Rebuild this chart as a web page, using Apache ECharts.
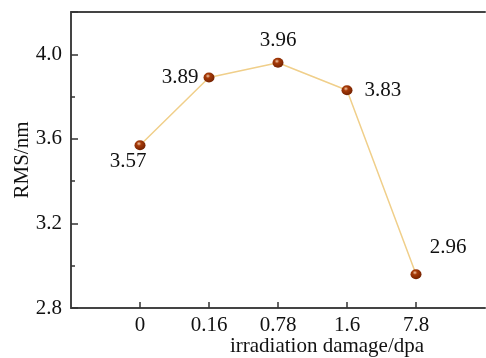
<!DOCTYPE html>
<html>
<head>
<meta charset="utf-8">
<script src="https://cdn.jsdelivr.net/npm/echarts@6/dist/echarts.min.js"></script>
<style>
  html, body { margin: 0; padding: 0; background: #fff; }
  #main { width: 486px; height: 358px; }
</style>
</head>
<body>
<div id="main"></div>
<script>
// categories (padded with blanks at both ends so the points sit like in the figure)
var damageLabels = ['', '0', '0.16', '0.78', '1.6', '7.8', ''];
var rmsValues = [null, 3.57, 3.89, 3.96, 3.83, 2.96, null];
// where each value label sits relative to its point
var labelPos = [null, [-12, 16], 'left', 'top', 'right', [32, -27]];

var serif = '"Liberation Serif", "DejaVu Serif", serif';

var chart = echarts.init(document.getElementById('main'));

var ball = {
  type: 'radial', x: 0.4, y: 0.35, r: 0.7,
  colorStops: [
    { offset: 0, color: '#f3c9a8' },
    { offset: 0.3, color: '#a63a08' },
    { offset: 1, color: '#6e1f00' }
  ]
};

var points = rmsValues.map(function (v, i) {
  if (v === null) return null;
  var p = labelPos[i];
  var lbl = { show: true, formatter: v.toFixed(2) };
  if (Array.isArray(p)) { lbl.position = 'inside'; lbl.offset = p; }
  else { lbl.position = p; lbl.distance = p === 'top' ? 7 : (p === 'left' ? 5 : 12); }
  return { value: v, label: lbl };
});

chart.setOption({
  animation: false,
  grid: { left: 71, right: 1, top: 12, bottom: 50, outerBoundsMode: 'none', containLabel: false },
  xAxis: [{
    type: 'category',
    data: damageLabels,
    boundaryGap: false,
    name: 'irradiation damage/dpa',
    nameLocation: 'middle',
    nameGap: 28,
    nameMoveOverlap: false,
    nameTextStyle: { fontFamily: serif, fontSize: 21, color: '#111', padding: [0, 0, 0, 98] },
    axisLine: { lineStyle: { color: '#444', width: 2 } },
    axisTick: {
      show: true, inside: true, length: 6, lineStyle: { color: '#333', width: 1.5 },
      interval: function (i) { return i > 0 && i < damageLabels.length - 1; }
    },
    axisLabel: { fontFamily: serif, fontSize: 21, color: '#111', margin: 7, interval: 0 },
    splitLine: { show: false }
  }, {
    type: 'category',
    position: 'top',
    data: damageLabels,
    boundaryGap: false,
    axisLine: { lineStyle: { color: '#444', width: 2 } },
    axisTick: { show: false },
    axisLabel: { show: false }
  }],
  yAxis: {
    type: 'value',
    min: 2.8,
    max: 4.2,
    interval: 0.4,
    name: 'RMS/nm',
    nameLocation: 'middle',
    nameGap: 38,
    nameMoveOverlap: false,
    nameTextStyle: { fontFamily: serif, fontSize: 21, color: '#111' },
    axisLine: { show: true, lineStyle: { color: '#444', width: 2 } },
    axisTick: { show: true, inside: true, length: 7, lineStyle: { color: '#333', width: 1.5 } },
    minorTick: { show: true, splitNumber: 2, length: 4, lineStyle: { color: '#333', width: 1.5 } },
    axisLabel: {
      fontFamily: serif, fontSize: 21, color: '#111', margin: 9,
      showMaxLabel: false,
      formatter: function (v) { return v.toFixed(1); }
    },
    splitLine: { show: false }
  },
  series: [{
    type: 'line',
    data: points,
    connectNulls: false,
    symbol: 'circle',
    symbolSize: [11, 10],
    lineStyle: { color: '#f0cf8a', width: 1.5 },
    itemStyle: { color: ball },
    label: { fontFamily: serif, fontSize: 21, color: '#111' }
  }]
});
</script>
</body>
</html>
